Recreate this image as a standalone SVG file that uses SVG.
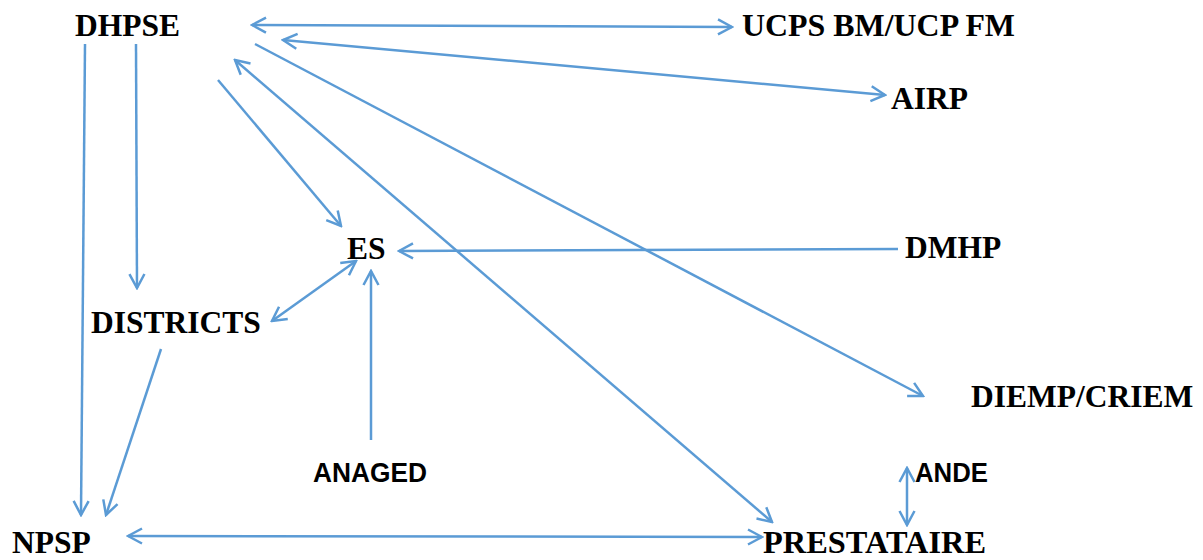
<svg xmlns="http://www.w3.org/2000/svg" width="1203" height="560" viewBox="0 0 1203 560">
<style>
.t{font-family:"Liberation Serif","Times New Roman",serif;font-weight:bold;font-size:31.5px;fill:#000}
.s{font-family:"Liberation Sans",Arial,sans-serif;font-weight:bold;font-size:27px;fill:#000}
.c line{stroke:#5B9BD5;stroke-width:2.5;fill:none}
</style>
<defs>
<marker id="a" viewBox="0 0 18 18" refX="16" refY="9" markerUnits="userSpaceOnUse" markerWidth="18" markerHeight="18" orient="auto-start-reverse">
<path d="M2,1.5 L16,9 L2,16.5" fill="none" stroke="#5B9BD5" stroke-width="2.5"/>
</marker>
</defs>
<rect width="1203" height="560" fill="#fff"/>
<g class="c" id="connectors">
<line x1="252" y1="25" x2="732" y2="27" marker-start="url(#a)" marker-end="url(#a)"/>
<line x1="283" y1="40" x2="885" y2="95" marker-start="url(#a)" marker-end="url(#a)"/>
<line x1="255" y1="44" x2="923" y2="396" marker-end="url(#a)"/>
<line x1="235" y1="60" x2="772" y2="522" marker-start="url(#a)" marker-end="url(#a)"/>
<line x1="218" y1="80" x2="341" y2="226" marker-end="url(#a)"/>
<line x1="85" y1="44" x2="81" y2="515" marker-end="url(#a)"/>
<line x1="136" y1="44" x2="137" y2="288" marker-end="url(#a)"/>
<line x1="161" y1="349" x2="106" y2="515" marker-end="url(#a)"/>
<line x1="272" y1="321" x2="356" y2="261" marker-start="url(#a)" marker-end="url(#a)"/>
<line x1="371" y1="440" x2="371" y2="271" marker-end="url(#a)"/>
<line x1="898" y1="249" x2="399" y2="251" marker-end="url(#a)"/>
<line x1="907" y1="468" x2="907" y2="525" marker-start="url(#a)" marker-end="url(#a)"/>
<line x1="128" y1="536" x2="762" y2="537" marker-start="url(#a)" marker-end="url(#a)"/>
</g>
<g id="dhpse"><text class="t" x="75" y="36">DHPSE</text></g>
<g id="ucps"><text class="t" x="742" y="36" textLength="273" lengthAdjust="spacingAndGlyphs">UCPS BM/UCP FM</text></g>
<g id="airp"><text class="t" x="891" y="109">AIRP</text></g>
<g id="es"><text class="t" x="347" y="259">ES</text></g>
<g id="dmhp"><text class="t" x="905" y="258">DMHP</text></g>
<g id="districts"><text class="t" x="91" y="333">DISTRICTS</text></g>
<g id="anaged"><text class="s" x="313" y="482" textLength="114" lengthAdjust="spacingAndGlyphs">ANAGED</text></g>
<g id="diemp"><text class="t" x="971" y="407">DIEMP/CRIEM</text></g>
<g id="ande"><text class="s" x="915" y="482" textLength="73" lengthAdjust="spacingAndGlyphs">ANDE</text></g>
<g id="prestataire"><text class="t" x="763" y="553" textLength="223" lengthAdjust="spacingAndGlyphs">PRESTATAIRE</text></g>
<g id="npsp"><text class="t" x="12" y="553">NPSP</text></g>
</svg>
